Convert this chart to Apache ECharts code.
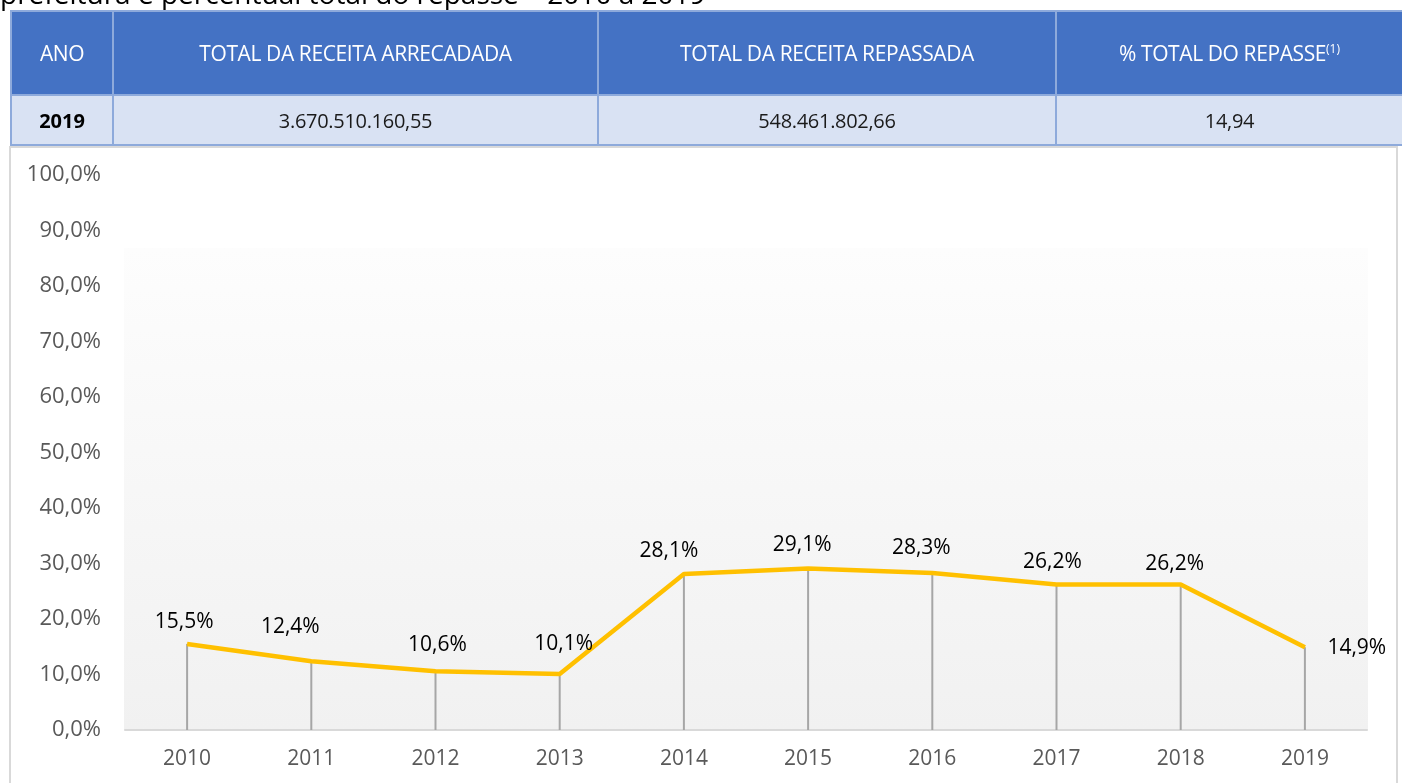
<!DOCTYPE html>
<html>
<head>
<meta charset="utf-8">
<script src="https://cdn.jsdelivr.net/npm/echarts@6/dist/echarts.min.js"></script>
<style>
  html, body { margin: 0; padding: 0; background: #fff; width: 1402px; height: 783px; overflow: hidden; position: relative; font-family: "Open Sans", "Noto Sans", sans-serif; }
  #title { position: absolute; left: 0; top: -22px; font-size: 28px; line-height: 30px; color: #000; white-space: nowrap; z-index: 3; }
  #frame { position: absolute; left: 9px; top: 146px; width: 1385px; height: 700px; border: 2px solid #D9D9D9; z-index: 0; }
  #tbl { position: absolute; left: 10px; top: 10px; width: 1420px; border-collapse: collapse; z-index: 3; table-layout: fixed; }
  #tbl td { border: 2px solid #8EAADB; text-align: center; padding: 0; white-space: nowrap; overflow: hidden; }
  #tbl tr.h td { background: #4472C4; color: #fff; height: 82px; font-size: 21px; letter-spacing: -0.4px; }
  #tbl tr.d td { background: #D9E2F3; color: #1a1a1a; height: 48px; font-size: 20px; letter-spacing: -0.3px; }
  #tbl tr.d td.y { font-weight: bold; color: #000; font-size: 20px; letter-spacing: 0; }
  sup { font-size: 12px; vertical-align: 8px; letter-spacing: 0; }
  #chart { position: absolute; left: 0; top: 0; width: 1402px; height: 783px; z-index: 1; }
</style>
</head>
<body>
<div id="title">prefeitura e percentual total do repasse – 2010 a 2019</div>
<div id="frame"></div>
<div id="chart"></div>
<table id="tbl">
  <colgroup><col style="width:102px"><col style="width:485px"><col style="width:458px"><col style="width:375px"></colgroup>
  <tr class="h"><td>ANO</td><td>TOTAL DA RECEITA ARRECADADA</td><td>TOTAL DA RECEITA REPASSADA</td><td><span style="margin-right:28px">% TOTAL DO REPASSE<sup>(1)</sup></span></td></tr>
  <tr class="d"><td class="y">2019</td><td>3.670.510.160,55</td><td>548.461.802,66</td><td><span style="margin-right:28px">14,94</span></td></tr>
</table>
<script>
// ---- data ----
const years = ['2010','2011','2012','2013','2014','2015','2016','2017','2018','2019'];
const repassePct = [15.5, 12.4, 10.6, 10.1, 28.1, 29.1, 28.3, 26.2, 26.2, 14.9];
const yTicks = [0, 10, 20, 30, 40, 50, 60, 70, 80, 90, 100];

// ---- label style tweaks (offsets in px, styling only) ----
const labelOffsets = [[-3,-10],[-21,-23],[2,-15],[4,-18],[-15,-12],[-6,-12],[-11,-13],[-4,-11],[-6,-9],[0,1]];
const labelPositions = ['top','top','top','top','top','top','top','top','top','right'];

const fmt = v => v.toFixed(1).replace('.', ',') + '%';

const chart = echarts.init(document.getElementById('chart'), null, { renderer: 'canvas' });
chart.setOption({
  animation: false,
  backgroundColor: 'transparent',
  grid: { left: 125, right: 35, top: 175, bottom: 53, show: false },
  graphic: [{
    type: 'rect', z: -10, silent: true,
    shape: { x: 124, y: 248, width: 1244, height: 482 },
    style: {
      fill: new echarts.graphic.LinearGradient(0, 0, 0, 1, [
        { offset: 0, color: '#FDFDFD' },
        { offset: 1, color: '#F1F1F1' }
      ])
    }
  }],
  xAxis: {
    type: 'category',
    data: years,
    boundaryGap: true,
    axisLine: { show: true, lineStyle: { color: '#D9D9D9', width: 2 } },
    axisTick: { show: false },
    axisLabel: { color: '#595959', fontSize: 21, margin: 19, fontFamily: 'Open Sans' },
    splitLine: { show: false }
  },
  yAxis: {
    type: 'value',
    min: yTicks[0], max: yTicks[yTicks.length - 1], interval: 10,
    axisLine: { show: false },
    axisTick: { show: false },
    splitLine: { show: false },
    axisLabel: { color: '#595959', fontSize: 22, margin: 24, fontFamily: 'Open Sans', formatter: v => fmt(v) }
  },
  series: [
    {
      type: 'bar',
      data: repassePct,
      barWidth: 2,
      itemStyle: { color: '#A6A6A6' },
      silent: true,
      z: 1
    },
    {
      type: 'line',
      data: repassePct.map((v, i) => ({
        value: v,
        label: { position: labelPositions[i], offset: labelOffsets[i], distance: labelPositions[i] === 'right' ? 22 : 0 }
      })),
      symbol: 'circle',
      symbolSize: 1,
      showSymbol: true,
      lineStyle: { color: '#FFC000', width: 4.5 },
      itemStyle: { color: '#FFC000' },
      z: 3,
      label: {
        show: true,
        color: '#000',
        fontSize: 21,
        lineHeight: 22,
        fontFamily: 'Open Sans',
        formatter: p => fmt(p.value)
      }
    }
  ]
});
</script>
</body>
</html>
